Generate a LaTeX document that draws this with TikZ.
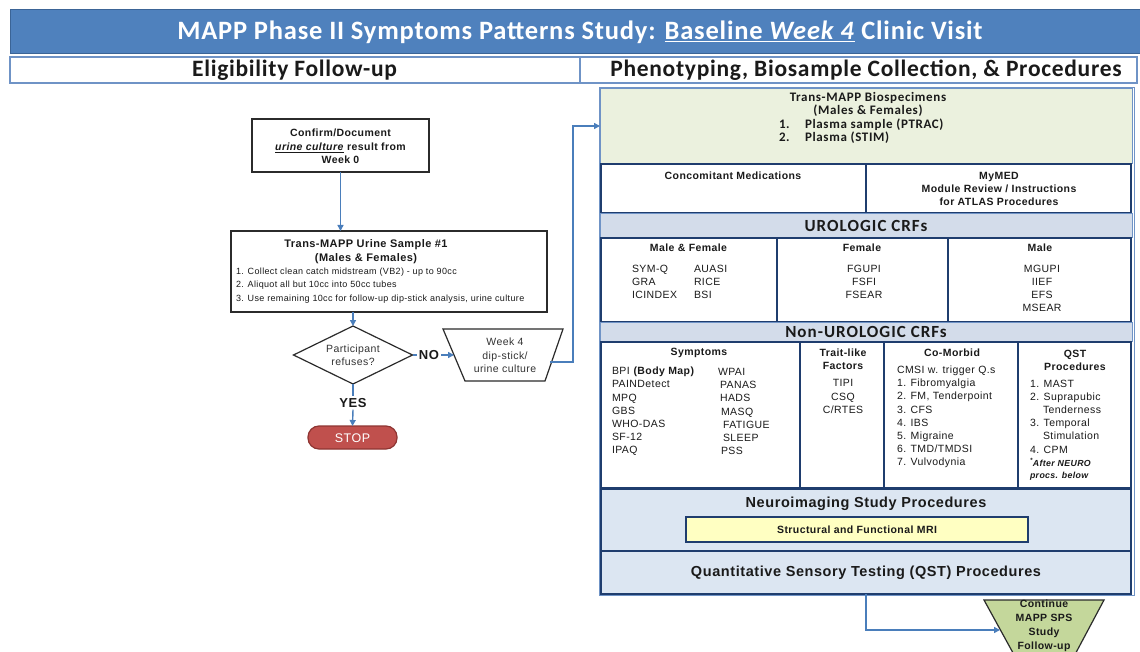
\documentclass[tikz,border=0pt]{standalone}
\usepackage{fontspec}
\setmainfont{Liberation Sans}[LetterSpace=4]
\newfontfamily\calfont{Carlito}
\usetikzlibrary{shapes.geometric,arrows.meta,calc}
\definecolor{hdrblue}{HTML}{4F81BD}
\definecolor{hdrborder}{HTML}{3B6496}
\definecolor{navy}{HTML}{1F3D6E}
\definecolor{lightline}{HTML}{6F93C6}
\definecolor{secfill}{HTML}{D3DCEA}
\definecolor{procfill}{HTML}{DCE6F2}
\definecolor{biofill}{HTML}{EBF1DE}
\definecolor{mrifill}{HTML}{FFFFC2}
\definecolor{stopfill}{HTML}{C0504D}
\definecolor{stopline}{HTML}{8E3532}
\definecolor{contfill}{HTML}{C4D79B}
\definecolor{connc}{HTML}{4A7EBB}
\definecolor{flowline}{HTML}{2B2B2B}
\definecolor{ink}{HTML}{1A1A1A}
\definecolor{ink2}{HTML}{333333}
\newcommand\fsz[2]{\fontsize{#1}{#2}\selectfont}
\newcommand\calsp[1]{\calfont\addfontfeature{LetterSpace=#1}}
\begin{document}
\begin{tikzpicture}[x=1pt,y=-1pt,
  every node/.style={inner sep=0pt, outer sep=0pt, text=ink},
  box/.style={draw=navy, line width=1.4pt, fill=white, anchor=north west},
  sec/.style={draw=lightline, line width=0.8pt, fill=secfill, anchor=north west},
  proc/.style={draw=navy, line width=1.4pt, fill=procfill, anchor=north west},
  fbox/.style={draw=flowline, line width=1.2pt, fill=white},
  conn/.style={draw=connc, line width=1.4pt},
  arr/.style={conn, -{Triangle[length=6pt,width=6pt]}},
  it/.style={font=\fsz{10.5}{13.2}},
  hd/.style={font=\bfseries\fsz{10.5}{13.2}},
  sect/.style={font=\calsp{6}\bfseries\fsz{17}{17}},
]
\useasboundingbox (0,0) rectangle (1140,652);
\fill[white] (0,0) rectangle (1140,652);

% ---------- header ----------
\node[draw=hdrborder, line width=1pt, fill=hdrblue, anchor=north west, minimum width=1135, minimum height=44] (titlebar) at (10,10) {};
\node[text=white, font=\calsp{3}\bfseries\fsz{26.5}{27}] (title) at (580,32) {MAPP Phase II Symptoms Patterns Study: \underline{Baseline \textit{Week 4}} Clinic Visit};
\node[draw=lightline, line width=1.2pt, fill=white, anchor=north west, minimum width=570, minimum height=26] (subl) at (10,57) {};
\node[draw=lightline, line width=1.2pt, fill=white, anchor=north west, minimum width=557, minimum height=26] (subr) at (580,57) {};
\node[font=\calsp{3}\bfseries\fsz{23.5}{24}] (sublt) at (294.5,70.5) {Eligibility Follow-up};
\node[font=\calsp{3}\bfseries\fsz{23.5}{24}] (subrt) at (866,70.5) {Phenotyping, Biosample Collection, \& Procedures};

% ---------- flowchart ----------
\node[fbox, minimum width=177, minimum height=53] (confirm) at (340.5,145.5) {};
\node[font=\bfseries\fsz{10.5}{13.5}, align=center] (confirmt) at (340.5,146.5) {Confirm/Document\\\underline{\textit{urine culture}} result from\\Week 0};
\node[fbox, minimum width=316, minimum height=81] (urine) at (389,271.5) {};
\node[font=\bfseries\fsz{11}{13.5}, align=center] (urinet) at (366,251.5) {Trans-MAPP Urine Sample \#1\\(Males \& Females)};
\node[font=\fsz{9}{13.5}, align=left, anchor=west] (urinel) at (236,285.5) {1. Collect clean catch midstream (VB2) - up to 90cc\\2. Aliquot all but 10cc into 50cc tubes\\3. Use remaining 10cc for follow-up dip-stick analysis, urine culture};
\node[fbox, diamond, minimum width=119, minimum height=58] (dia) at (353,355) {};
\node[font=\fsz{10.5}{13}, align=center, text=ink2] (diat) at (353,355.5) {Participant\\refuses?};
\node[font=\bfseries\fsz{13}{13}, inner sep=2pt] (no) at (429,355) {NO};
% Week 4 trapezoid (wide side on top)
\draw[fbox] (443,329) -- (563,329) -- (545,381) -- (465,381) -- cycle;
\node[font=\fsz{10.5}{13.5}, align=center, text=ink2] (week4) at (505,355.5) {Week 4\\dip-stick/\\urine culture};
\coordinate (w4in) at (454,355);
\coordinate (w4out) at (550,362);
\node[font=\bfseries\fsz{13}{13}, inner sep=2pt] (yes) at (353,403) {YES};
\node[draw=stopline, line width=1.2pt, fill=stopfill, rounded corners=11pt, minimum width=89, minimum height=23] (stop) at (352.5,437.5) {};
\node[text=white, font=\fsz{12.5}{13}] (stopt) at (352.5,438) {STOP};

% ---------- right panel ----------
\node[draw=lightline, line width=0.8pt, fill=biofill, anchor=north west, minimum width=532, minimum height=75] (bio) at (600,88) {};
\node[font=\calsp{5}\bfseries\fsz{13}{13.5}, align=center] (biot) at (868,104.5) {Trans-MAPP Biospecimens\\(Males \& Females)};
\node[font=\calsp{5}\bfseries\fsz{13}{13.5}, anchor=west] (bio1) at (779,125) {\makebox[26pt][l]{1.}Plasma sample (PTRAC)};
\node[font=\calsp{5}\bfseries\fsz{13}{13.5}, anchor=west] (bio2) at (779,138) {\makebox[26pt][l]{2.}Plasma (STIM)};

\node[box, minimum width=265, minimum height=49] (cm) at (601,164) {};
\node[box, minimum width=265, minimum height=49] (mymed) at (866,164) {};
\node[hd] (cmt) at (733,176) {Concomitant Medications};
\node[hd, align=center] (mymedt) at (999,189) {MyMED\\Module Review / Instructions\\for ATLAS Procedures};

\node[sec, minimum width=532, minimum height=24] (urohdr) at (600,213) {};
\node[sect] (urot) at (866,225.5) {UROLOGIC CRFs};
\node[box, minimum width=176, minimum height=84] (mf) at (601,238) {};
\node[box, minimum width=171, minimum height=84] (fem) at (777,238) {};
\node[box, minimum width=183, minimum height=84] (male) at (948,238) {};
\node[hd] (mft) at (688.5,248) {Male \& Female};
\node[it, align=left, anchor=west] (mfa) at (632,282) {SYM-Q\\GRA\\ICINDEX};
\node[it, align=left, anchor=west] (mfb) at (694,282) {AUASI\\RICE\\BSI};
\node[hd] (femt) at (862,248) {Female};
\node[it, align=center] (femi) at (864,282) {FGUPI\\FSFI\\FSEAR};
\node[hd] (malet) at (1040,248) {Male};
\node[it, align=center] (malei) at (1042,288.5) {MGUPI\\IIEF\\EFS\\MSEAR};

\node[sec, minimum width=532, minimum height=19] (nonhdr) at (600,322) {};
\node[sect] (nont) at (866,331.5) {Non-UROLOGIC CRFs};
\node[box, minimum width=199, minimum height=146] (sym) at (601,342) {};
\node[box, minimum width=84, minimum height=146] (trait) at (800,342) {};
\node[box, minimum width=134, minimum height=146] (como) at (884,342) {};
\node[box, minimum width=113, minimum height=146] (qstc) at (1018,342) {};
\node[hd] (symt) at (699,353) {Symptoms};
\node[it, align=left, anchor=west] (syma) at (612,411.5) {BPI \textbf{(Body Map)}\\PAINDetect\\MPQ\\GBS\\WHO-DAS\\SF-12\\IPAQ};
\node[it, align=left, anchor=west] (symb) at (718,411.5) {WPAI\\\hspace*{2pt}PANAS\\\hspace*{2pt}HADS\\\hspace*{3pt}MASQ\\\hspace*{5pt}FATIGUE\\\hspace*{5pt}SLEEP\\\hspace*{3pt}PSS};
\node[hd, align=center] (traitt) at (843,359.5) {Trait-like\\Factors};
\node[it, align=center] (traiti) at (843,396.5) {TIPI\\CSQ\\C/RTES};
\node[hd] (comot) at (952,353) {Co-Morbid};
\node[it, align=left, anchor=west] (comoi) at (897,417) {CMSI w. trigger Q.s\\1. Fibromyalgia\\2. FM, Tenderpoint\\3. CFS\\4. IBS\\5. Migraine\\6. TMD/TMDSI\\7. Vulvodynia};
\node[hd, align=center] (qstt) at (1075,360) {QST\\Procedures};
\node[it, align=left, anchor=west] (qsti) at (1030,416.5) {1. MAST\\2. Suprapubic\\\hspace*{13pt}Tenderness\\3. Temporal\\\hspace*{13pt}Stimulation\\4. CPM};
\node[font=\bfseries\itshape\fsz{8.8}{12}, align=left, anchor=west] (qstn) at (1030,469.5) {\textsuperscript{*}After NEURO\\procs. below};

\node[proc, minimum width=530, minimum height=62] (neuro) at (601,489) {};
\node[font=\bfseries\fsz{14.5}{15}] (neurot) at (866,503.5) {Neuroimaging Study Procedures};
\node[draw=navy, line width=1.6pt, fill=mrifill, anchor=north west, minimum width=342, minimum height=25] (mri) at (686,517) {};
\node[hd] (mrit) at (857,529.5) {Structural and Functional MRI};
\node[proc, minimum width=530, minimum height=43] (qstp) at (601,551) {};
\node[font=\bfseries\fsz{14.5}{15}] (qstpt) at (866,572.5) {Quantitative Sensory Testing (QST) Procedures};

\node[draw=lightline, line width=0.9pt, anchor=north west, minimum width=535, minimum height=508] (panel) at (599,87) {};

% Continue trapezoid (wide side on top, runs off the page)
\draw[draw=flowline, line width=1.2pt, fill=contfill] (984,600) -- (1104,600) -- (1071,662) -- (1018,662) -- cycle;
\node[font=\bfseries\fsz{10.5}{14}, align=center] (cont) at (1044,626) {Continue\\MAPP SPS\\Study\\Follow-up};
\coordinate (contin) at (1000,630);

% ---------- connectors ----------
\draw[arr] (confirm.south) -- (confirm.south |- urine.north);
\draw[arr] (urine.south -| dia.north) -- (dia.north);
\draw[conn] (dia.east) -- (no.west);
\draw[arr] (no.east) -- (w4in);
\draw[conn] (dia.south) -- (yes.north);
\draw[arr] (yes.south) -- (stop.north);
\coordinate (bend) at (573,126);
\draw[arr] (w4out) -| (bend) -- (bend -| bio.west);
\draw[arr] (qstp.south) |- (contin);
\end{tikzpicture}
\end{document}
